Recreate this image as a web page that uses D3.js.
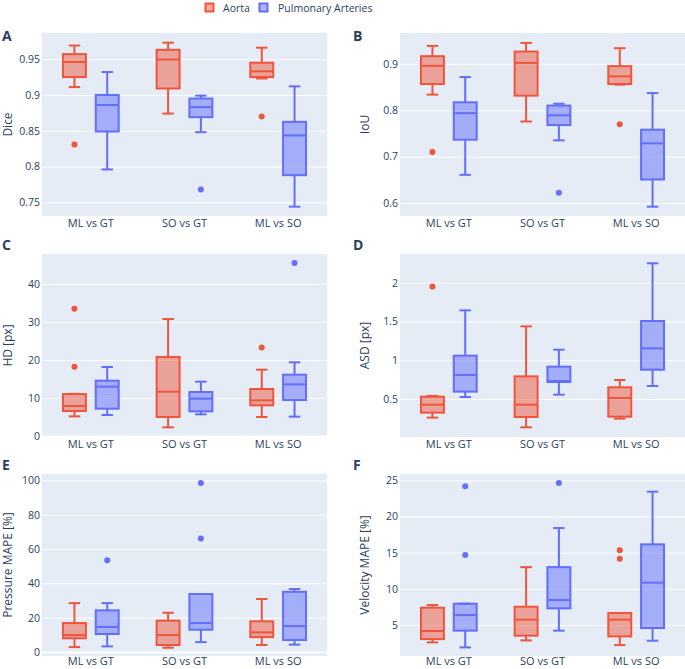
<!DOCTYPE html>
<html><head><meta charset="utf-8">
<script src="https://cdn.jsdelivr.net/npm/d3@7"></script>
<style>body{margin:0;background:#fff}svg{display:block;font-family:"Open Sans",sans-serif}</style>
</head><body><svg id="c" width="685" height="669"></svg>
<script>
// ---- data ----
const categories = ["ML vs GT", "SO vs GT", "ML vs SO"];
const seriesNames = ["Aorta", "Pulmonary Arteries"];
// stats per category: [lower whisker, q1, median, q3, upper whisker]
const diceAorta = [[0.911,0.925,0.946,0.957,0.969],[0.874,0.909,0.9495,0.963,0.973],[0.923,0.925,0.933,0.945,0.966]];
const diceAortaOut = [[0.831],[],[0.870]];
const dicePulm = [[0.796,0.849,0.886,0.900,0.932],[0.848,0.869,0.883,0.895,0.899],[0.744,0.788,0.8435,0.8625,0.912]];
const dicePulmOut = [[],[0.768],[]];
const diceTicks = [0.75,0.8,0.85,0.9,0.95];

const iouAorta = [[0.8336,0.8564,0.8957,0.9164,0.9386],[0.7757,0.8314,0.902,0.9264,0.945],[0.855,0.8564,0.8729,0.895,0.9336]];
const iouAortaOut = [[0.710],[],[0.770]];
const iouPulm = [[0.6607,0.7364,0.7936,0.817,0.8714],[0.735,0.768,0.789,0.81,0.814],[0.592,0.6507,0.7286,0.758,0.837]];
const iouPulmOut = [[],[0.622],[]];
const iouTicks = [0.6,0.7,0.8,0.9];

const hdAorta = [[5.18,6.58,7.9,11.05,11.1],[2.28,5.0,11.67,20.8,30.8],[5.0,8.07,9.39,12.37,17.46]];
const hdAortaOut = [[33.5,18.2],[],[23.3]];
const hdPulm = [[5.53,7.19,12.98,14.56,18.16],[5.7,6.49,9.82,11.58,14.3],[5.09,9.47,13.6,16.14,19.39]];
const hdPulmOut = [[],[],[45.5]];
const hdTicks = [0,10,20,30,40];

const asdAorta = [[0.26,0.324,0.427,0.53,0.54],[0.135,0.268,0.427,0.792,1.437],[0.247,0.272,0.513,0.651,0.745]];
const asdAortaOut = [[1.95],[],[]];
const asdPulm = [[0.526,0.595,0.81,1.059,1.643],[0.556,0.719,0.732,0.917,1.136],[0.668,0.878,1.153,1.506,2.25]];
const asdPulmOut = [[],[],[]];
const asdTicks = [0.5,1,1.5,2];

const presAorta = [[2.9,8.0,9.9,16.9,28.5],[2.5,4.1,9.9,18.3,22.9],[4.1,8.7,11.5,17.9,30.9]];
const presAortaOut = [[],[],[]];
const presPulm = [[3.3,10.5,14.6,24.3,28.5],[5.8,13.0,16.9,33.8,33.8],[4.3,7.0,15.1,35.1,36.7]];
const presPulmOut = [[53.4],[98.4,66.2],[]];
const presTicks = [0,20,40,60,80,100];

const velAorta = [[2.6,3.06,4.17,7.4,7.76],[2.88,3.53,5.74,7.53,13.0],[2.23,3.43,5.74,6.66,6.66]];
const velAortaOut = [[],[],[15.32,14.17]];
const velPulm = [[1.91,4.22,6.38,7.95,7.95],[4.22,7.3,8.46,13.0,18.4],[2.83,4.58,10.85,16.15,23.43]];
const velPulmOut = [[24.17,14.68],[24.63],[]];
const velTicks = [5,10,15,20,25];

// ---- style / layout ----
const colors = ["#EF553B", "#636EFA"];
const fills = ["rgba(239,85,59,0.5)", "rgba(99,110,250,0.5)"];
const textColor = "#2a3f5f";

const panels = [
  {letter:"A", title:"Dice", ticks:diceTicks, domain:[0.731,0.9865], series:[[diceAorta,diceAortaOut],[dicePulm,dicePulmOut]], col:0, row:0},
  {letter:"B", title:"IoU", ticks:iouTicks, domain:[0.572,0.9664], series:[[iouAorta,iouAortaOut],[iouPulm,iouPulmOut]], col:1, row:0},
  {letter:"C", title:"HD [px]", ticks:hdTicks, domain:[-0.26,47.9], series:[[hdAorta,hdAortaOut],[hdPulm,hdPulmOut]], col:0, row:1},
  {letter:"D", title:"ASD [px]", ticks:asdTicks, domain:[0.01,2.37], series:[[asdAorta,asdAortaOut],[asdPulm,asdPulmOut]], col:1, row:1},
  {letter:"E", title:"Pressure MAPE [%]", ticks:presTicks, domain:[-2.3,103.7], series:[[presAorta,presAortaOut],[presPulm,presPulmOut]], col:0, row:2},
  {letter:"F", title:"Velocity MAPE [%]", ticks:velTicks, domain:[0.72,25.87], series:[[velAorta,velAortaOut],[velPulm,velPulmOut]], col:1, row:2}
];
const cols = [[42,327],[400,685]];
const rows = [[33,216],[254,437],[474,656]];
const xPad = [3,3,1];
const letterX = [2,353];
const letterY = [41,250,470];
const titleX = [12,369];

const svg = d3.select("#c");

panels.forEach(p => {
  const [x0,x1] = cols[p.col], [y0,y1] = rows[p.row];
  const g = svg.append("g");
  g.append("rect").attr("x",x0).attr("y",y0).attr("width",x1-x0).attr("height",y1-y0).attr("fill","#E5ECF6");

  const x = d3.scaleBand().domain(categories).range([x0+2, x1-2]);
  const cw = x.bandwidth();
  const xs = d3.scaleBand().domain(seriesNames).range([-0.35*cw, 0.35*cw]).paddingInner(0.3).paddingOuter(0.15);
  const y = d3.scaleLinear().domain(p.domain).range([y1, y0]);

  // y axis with gridlines
  const ya = g.append("g").attr("transform",`translate(${x0},0)`)
    .call(d3.axisLeft(y).tickValues(p.ticks).tickSize(-(x1-x0)).tickPadding(2).tickFormat(d=>String(d)));
  ya.select(".domain").remove();
  ya.selectAll("line").attr("stroke","#fff").attr("stroke-width",d=>d===0?2:1);
  ya.selectAll("text").attr("fill",textColor).style("font-size","10.5px").style("font-family",'"Open Sans",sans-serif');

  // x axis
  const xa = g.append("g").attr("transform",`translate(0,${y1})`)
    .call(d3.axisBottom(x).tickSize(0).tickPadding(xPad[p.row]));
  xa.select(".domain").remove();
  xa.selectAll("text").attr("fill",textColor).style("font-size","11px").style("font-family",'"Open Sans",sans-serif');

  // boxes
  p.series.forEach(([stats, outs], si) => {
    const name = seriesNames[si];
    const bw = xs.bandwidth();
    stats.forEach((s, ci) => {
      const cx = x(categories[ci]) + cw/2 + xs(name) + bw/2;
      const [lo,q1,md,q3,hi] = s;
      const bg = g.append("g");
      bg.append("rect").attr("x",cx-bw/2).attr("y",y(q3)).attr("width",bw).attr("height",y(q1)-y(q3))
        .attr("fill",fills[si]).attr("stroke",colors[si]).attr("stroke-width",2);
      bg.append("line").attr("x1",cx-bw/2).attr("x2",cx+bw/2).attr("y1",y(md)).attr("y2",y(md))
        .attr("stroke",colors[si]).attr("stroke-width",2);
      bg.append("line").attr("x1",cx).attr("x2",cx).attr("y1",y(q3)).attr("y2",y(hi)).attr("stroke",colors[si]).attr("stroke-width",2);
      bg.append("line").attr("x1",cx).attr("x2",cx).attr("y1",y(q1)).attr("y2",y(lo)).attr("stroke",colors[si]).attr("stroke-width",2);
      [hi,lo].forEach(v => bg.append("line").attr("x1",cx-bw/4).attr("x2",cx+bw/4).attr("y1",y(v)).attr("y2",y(v))
        .attr("stroke",colors[si]).attr("stroke-width",2));
      outs[ci].forEach(v => bg.append("circle").attr("cx",cx).attr("cy",y(v)).attr("r",3).attr("fill",colors[si]));
    });
  });

  // titles
  g.append("text").attr("transform",`translate(${titleX[p.col]},${(y0+y1)/2}) rotate(-90)`)
    .attr("text-anchor","middle").attr("fill",textColor).style("font-size","12px").text(p.title);
  g.append("text").attr("x",letterX[p.col]).attr("y",letterY[p.row]).attr("fill",textColor)
    .style("font-size","14px").style("font-weight","bold").text(p.letter);
});

// legend
const legX = [[205,223],[259,278]];
seriesNames.forEach((n,i) => {
  svg.append("rect").attr("x",legX[i][0]+0.5).attr("y",3.5).attr("width",8).attr("height",8)
    .attr("fill",fills[i]).attr("stroke",colors[i]).attr("stroke-width",2);
  svg.append("text").attr("x",legX[i][1]).attr("y",12).attr("fill",textColor).style("font-size","10.5px").text(n);
});
</script></body></html>
